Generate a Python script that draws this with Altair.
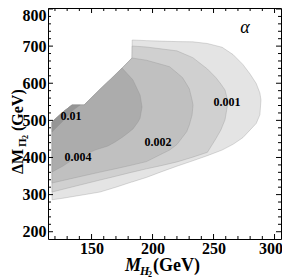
import altair as alt
import pandas as pd

# ---------------- data (data units) ----------------
X_DOM = [114.3, 305.3]
Y_DOM = [180.4, 802.7]
W, H = 233, 231

# outermost shaded band (lowest level)
L_x  = [117.6, 126.6, 134.0, 143.9, 157.0, 170.0, 183.1, 183.3, 195.0, 207.0, 220.0, 233.0, 245.0, 257.0, 266.0, 274.0, 280.0, 285.0, 288.0, 288.9]
L_lo = [286.0, 290.3, 294.4, 299.7, 307.0, 320.0, 334.2, 334.2, 346.3, 361.2, 376.6, 391.1, 405.0, 420.0, 435.5, 453.3, 474.3, 491.8, 515.0, 555.0]
L_hi = [495.6, 522.5, 541.4, 541.4, 583.7, 623.8, 668.0, 716.5, 714.8, 713.5, 712.2, 711.6, 707.0, 697.0, 677.3, 650.8, 624.6, 599.3, 573.7, 555.0]

# level 0.001
A_x  = [117.6, 126.6, 134.0, 143.9, 157.0, 170.0, 183.1, 183.3, 195.0, 207.0, 220.0, 233.0, 245.0, 252.0, 256.0, 259.4, 261.9]
A_lo = [307.0, 314.4, 320.5, 328.6, 339.3, 349.6, 360.4, 360.4, 369.5, 378.0, 388.0, 400.9, 414.0, 451.0, 474.0, 501.5, 549.5]
A_hi = [495.6, 522.5, 541.4, 541.4, 583.7, 623.8, 668.0, 700.3, 697.6, 692.6, 687.2, 669.0, 638.4, 615.0, 598.0, 581.8, 549.5]

# level 0.002
B_x  = [117.6, 126.6, 134.0, 143.9, 157.0, 170.0, 183.2, 195.0, 207.0, 214.0, 220.0, 224.5, 228.0, 230.2, 232.4, 233.2]
B_lo = [331.3, 338.0, 343.6, 351.0, 360.6, 369.9, 379.6, 388.9, 408.6, 420.0, 435.0, 454.4, 469.5, 488.0, 514.4, 541.4]
B_hi = [495.6, 522.5, 541.4, 541.4, 583.7, 623.8, 668.0, 662.0, 651.0, 644.5, 628.0, 615.5, 597.0, 584.5, 554.8, 541.4]

# level 0.004
C_x  = [117.6, 126.6, 134.0, 143.9, 152.9, 163.5, 169.3, 175.0, 179.9, 184.0, 188.1, 189.8, 191.4]
C_lo = [360.9, 377.0, 393.2, 406.6, 420.0, 431.0, 441.7, 454.0, 466.0, 477.0, 495.6, 506.0, 536.0]
C_hi = [495.6, 522.5, 541.4, 541.4, 570.5, 605.0, 623.0, 641.0, 623.5, 608.7, 580.0, 568.0, 536.0]

# level 0.01
D_x  = [117.6, 126.6, 134.0, 140.6]
D_lo = [468.6, 498.3, 525.0, 541.4]
D_hi = [495.6, 522.5, 541.4, 541.4]

BAND_COLORS = ["#e4e4e4", "#d0d0d0", "#c0c0c0", "#acacac", "#959595"]

LABEL_X = [133.2, 138.9, 204.5, 261.1]
LABEL_Y = [511.7, 401.3, 441.7, 549.5]
LABEL_T = ["0.01", "0.004", "0.002", "0.001"]

X_MAJOR = [150, 200, 250, 300]
X_MINOR = [120, 130, 140, 160, 170, 180, 190, 210, 220, 230, 240, 260, 270, 280, 290]
Y_MAJOR = [200, 300, 400, 500, 600, 700, 800]
Y_MINOR = [220, 240, 260, 280, 320, 340, 360, 380, 420, 440, 460, 480,
           520, 540, 560, 580, 620, 640, 660, 680, 720, 740, 760, 780]

FONT = "Liberation Serif"

xs = alt.Scale(domain=X_DOM, nice=False, zero=False)
ys = alt.Scale(domain=Y_DOM, nice=False, zero=False)

x_axis = alt.Axis(values=X_MAJOR, ticks=False, domain=False, grid=False, title=None,
                  labelFont=FONT, labelFontWeight="bold", labelFontSize=16,
                  labelColor="black", labelPadding=1, labelFlush=False,
                  labelOffset={"condition": {"test": "datum.value == 300", "value": -4}, "value": 0})
y_axis = alt.Axis(values=Y_MAJOR, ticks=False, domain=False, grid=False, title=None,
                  labelFont=FONT, labelFontWeight="bold", labelFontSize=16,
                  labelColor="black", labelPadding=2, labelFlush=False,
                  labelOffset={"condition": {"test": "datum.value == 800", "value": 6}, "value": 0})

def X(field):
    return alt.X(field, scale=xs, axis=x_axis, stack=None)

def Y(field):
    return alt.Y(field, scale=ys, axis=y_axis, stack=None)

layers = []
bands = [(L_x, L_lo, L_hi), (A_x, A_lo, A_hi), (B_x, B_lo, B_hi), (C_x, C_lo, C_hi), (D_x, D_lo, D_hi)]
for k, (bx, blo, bhi) in enumerate(bands):
    df = pd.DataFrame({"x": bx, "lo": blo, "hi": bhi})
    layers.append(
        alt.Chart(df).mark_area(color=BAND_COLORS[k], stroke="#8a8a8a", strokeWidth=0.5,
                                strokeOpacity=0.6, clip=True, orient="vertical")
        .encode(x=X("x:Q"), y=Y("lo:Q"), y2="hi:Q")
    )

lab = pd.DataFrame({"x": LABEL_X, "y": LABEL_Y, "t": LABEL_T})
layers.append(
    alt.Chart(lab).mark_text(font=FONT, fontWeight="bold", fontSize=12, color="black")
    .encode(x=X("x:Q"), y=Y("y:Q"), text="t:N")
)

alpha = pd.DataFrame({"x": [275.8], "y": [748.8], "t": ["α"]})
layers.append(
    alt.Chart(alpha).mark_text(font=FONT, fontStyle="italic", fontSize=18, color="black")
    .encode(x=X("x:Q"), y=Y("y:Q"), text="t:N")
)

# frame ticks (inward) on all four sides
def xticks(vals, ln):
    d = pd.DataFrame({"v": vals})
    b = alt.Chart(d).mark_rule(color="black", strokeWidth=1)
    return [b.encode(x=X("v:Q"), y=alt.value(H), y2=alt.value(H - ln)),
            b.encode(x=X("v:Q"), y=alt.value(0), y2=alt.value(ln))]

def yticks(vals, ln):
    d = pd.DataFrame({"v": vals})
    b = alt.Chart(d).mark_rule(color="black", strokeWidth=1)
    return [b.encode(y=Y("v:Q"), x=alt.value(0), x2=alt.value(ln)),
            b.encode(y=Y("v:Q"), x=alt.value(W), x2=alt.value(W - ln))]

layers += xticks(X_MAJOR, 5) + xticks(X_MINOR, 3) + yticks(Y_MAJOR, 5) + yticks(Y_MINOR, 3)

# axis titles built from text pieces
one = pd.DataFrame({"a": [0]})
def piece(txt, x, y, size, style="normal", weight="bold", angle=0):
    return alt.Chart(one).mark_text(font=FONT, fontSize=size, fontStyle=style, fontWeight=weight,
                                    align="left", baseline="alphabetic", angle=angle, color="black"
                                    ).encode(x=alt.value(x), y=alt.value(y), text=alt.value(txt))

layers += [
    piece("M", 77, 263, 18, style="italic"),
    piece("H", 92, 267, 12, style="italic"),
    piece("2", 100, 269, 8),
    piece("(GeV)", 105, 263, 18),
    piece("ΔM", -25, 166, 16, angle=270),
    piece("Π", -22, 139, 11, angle=270),
    piece("2", -20, 131, 8, angle=270),
    piece("(GeV)", -25, 123, 16, angle=270),
]

chart = alt.layer(*layers).properties(
    width=W, height=H,
    autosize=alt.AutoSizeParams(type="none"),
    padding={"left": 40, "top": 0, "right": 1, "bottom": 40},
).configure_view(stroke="black", strokeWidth=1)

chart.save("out.html", embed_options={"renderer": "svg", "actions": False})
